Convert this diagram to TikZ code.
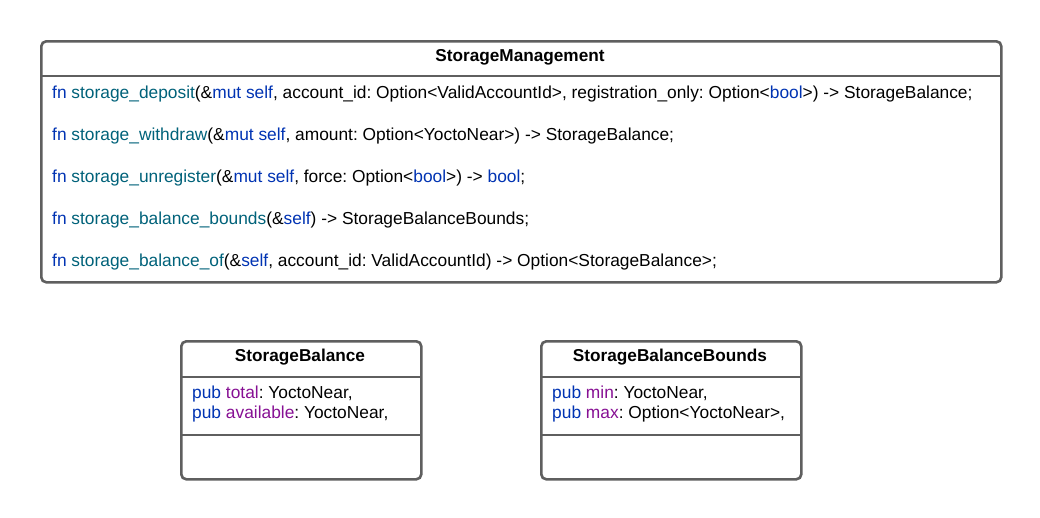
\documentclass[tikz,border=0pt]{standalone}
\usepackage{fontspec}
\setmainfont{Liberation Sans}
\definecolor{kw}{RGB}{0,51,179}
\definecolor{fnc}{RGB}{0,98,122}
\definecolor{fld}{RGB}{135,16,148}
\definecolor{frame}{RGB}{95,95,95}
\newcommand{\K}[1]{\textcolor{kw}{#1}}
\newcommand{\F}[1]{\textcolor{fnc}{#1}}
\newcommand{\D}[1]{\textcolor{fld}{#1}}
\frenchspacing
\begin{document}
\begin{tikzpicture}[x=1pt,y=-1pt,
  umlbox/.style={draw=frame,line width=2.6pt,rounded corners=5pt,anchor=north west,inner sep=0pt,fill=white},
  sep/.style={draw=frame,line width=2.6pt},
  title/.style={font=\fontsize{17.2}{20}\selectfont\bfseries,inner sep=0pt},
  row/.style={font=\fontsize{17.35}{20}\selectfont,anchor=west,inner sep=0pt,text height=12pt,text depth=3.5pt}]
\useasboundingbox (0,0) rectangle (1040,517);
\fill[white] (0,0) rectangle (1040,517);
% StorageManagement
\node[umlbox,minimum width=960pt,minimum height=241pt] (sm) at (40,40) {};
\coordinate (smh1) at (40,76);
\coordinate (smh2) at (1000,76);
\draw[sep] (smh1) -- (smh2);
\node[title] (smt) at (520,57.5) {StorageManagement};
\node[row] (m1) at (52,94.5) {\K{fn} \F{storage\_deposit}(\&\K{mut} \K{self}, account\_id: Option<ValidAccountId>, registration\_only: Option<\K{bool}>) -> StorageBalance;};
\node[row] (m2) at (52,136.5) {\K{fn} \F{storage\_withdraw}(\&\K{mut} \K{self}, amount: Option<YoctoNear>) -> StorageBalance;};
\node[row] (m3) at (52,178.5) {\K{fn} \F{storage\_unregister}(\&\K{mut} \K{self}, force: Option<\K{bool}>) -> \K{bool};};
\node[row] (m4) at (52,220.5) {\K{fn} \F{storage\_balance\_bounds}(\&\K{self}) -> StorageBalanceBounds;};
\node[row] (m5) at (52,262.5) {\K{fn} \F{storage\_balance\_of}(\&\K{self}, account\_id: ValidAccountId) -> Option<StorageBalance>;};
% StorageBalance
\node[umlbox,minimum width=240pt,minimum height=138pt] (sb) at (180,340) {};
\coordinate (sbh1) at (180,377);
\coordinate (sbh2) at (420,377);
\coordinate (sbd1) at (180,435);
\coordinate (sbd2) at (420,435);
\draw[sep] (sbh1) -- (sbh2);
\draw[sep] (sbd1) -- (sbd2);
\node[title] (sbt) at (300,357.5) {StorageBalance};
\node[row] (b1) at (192,394.5) {\K{pub} \D{total}: YoctoNear,};
\node[row] (b2) at (192,414.5) {\K{pub} \D{available}: YoctoNear,};
% StorageBalanceBounds
\node[umlbox,minimum width=260pt,minimum height=138pt] (sbb) at (540,340) {};
\coordinate (bbh1) at (540,377);
\coordinate (bbh2) at (800,377);
\coordinate (bbd1) at (540,435);
\coordinate (bbd2) at (800,435);
\draw[sep] (bbh1) -- (bbh2);
\draw[sep] (bbd1) -- (bbd2);
\node[title] (sbbt) at (670,357.5) {StorageBalanceBounds};
\node[row] (c1) at (552,394.5) {\K{pub} \D{min}: YoctoNear,};
\node[row] (c2) at (552,414.5) {\K{pub} \D{max}: Option<YoctoNear>,};
\end{tikzpicture}
\end{document}
